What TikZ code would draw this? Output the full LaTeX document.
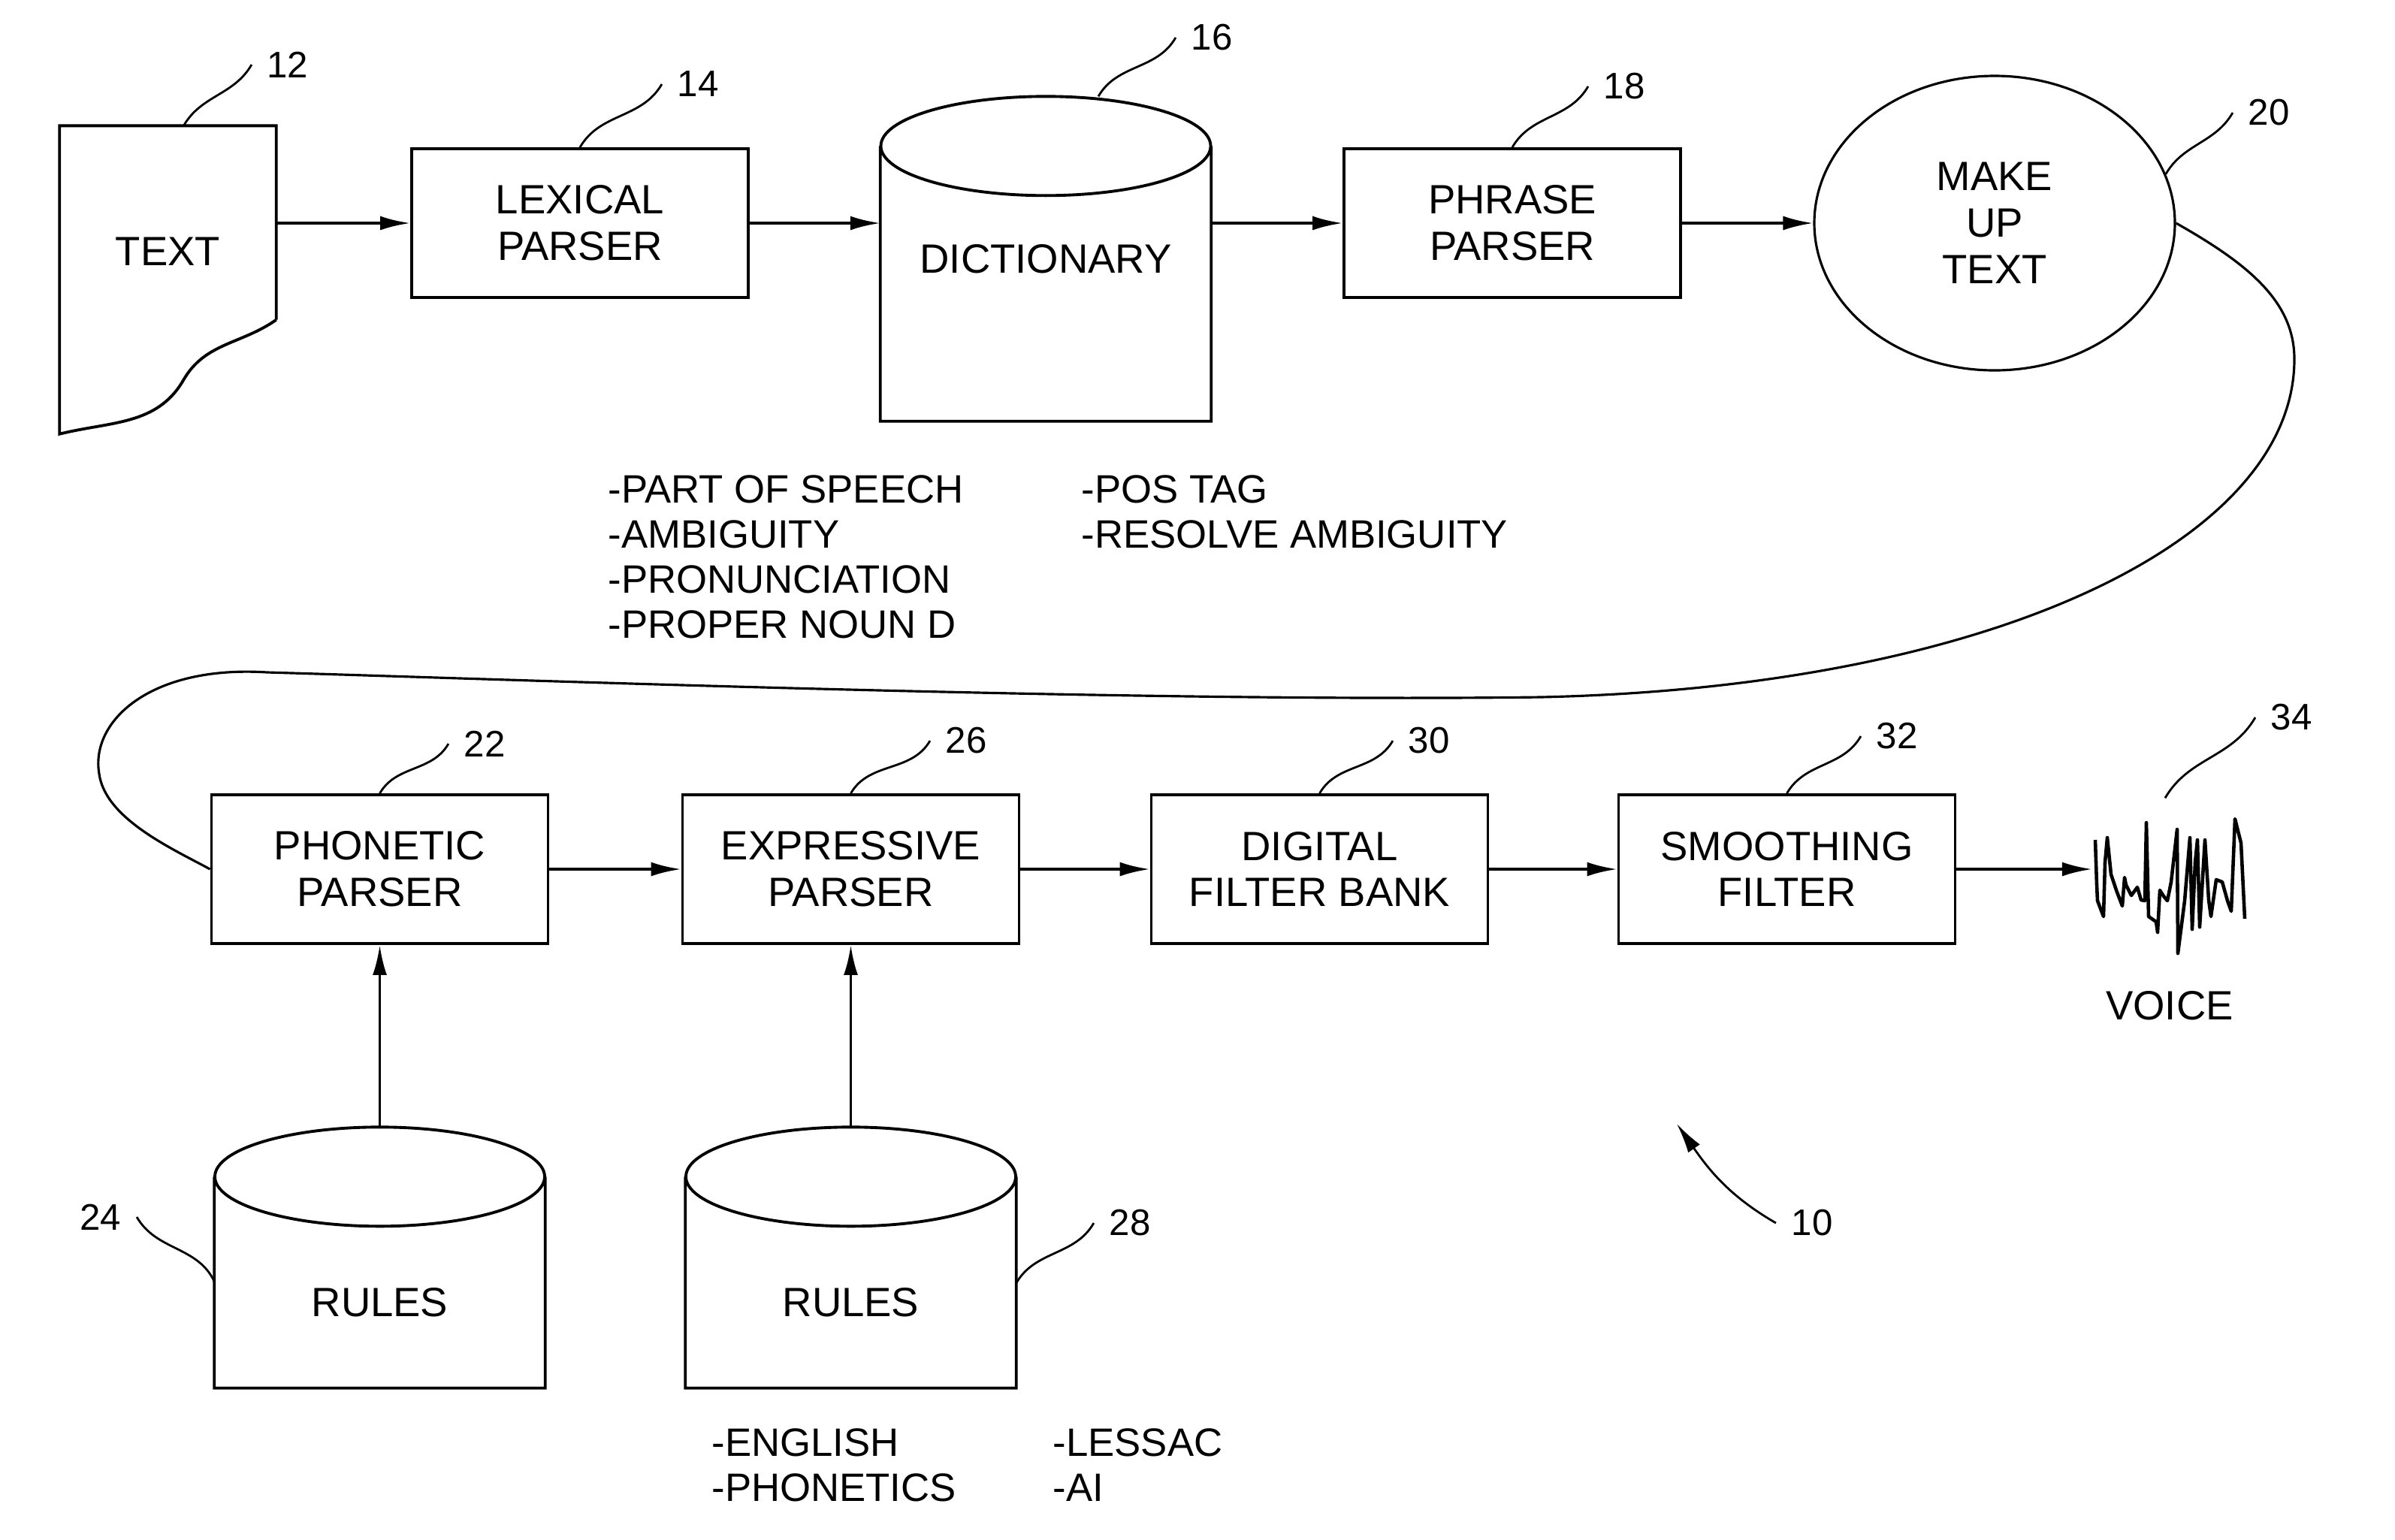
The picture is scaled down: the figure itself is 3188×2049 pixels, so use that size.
\documentclass[tikz,border=0pt]{standalone}
\usepackage{fontspec}
\setmainfont{Liberation Sans}
\usetikzlibrary{shapes.geometric,arrows.meta,positioning}

\begin{document}
\begin{tikzpicture}[x=0.1mm, y=-0.1mm, node distance=62mm, >={Latex[length=4mm,width=1.9mm]},
  every node/.style={font=\fontsize{15.5}{17.6}\selectfont},
  block/.style={rectangle, draw, line width=1.1pt, minimum width=44.8mm, minimum height=19.8mm, align=center, inner sep=0pt},
  drum/.style={rectangle, minimum width=43.9mm, inner sep=0pt},
  notes/.style={align=left, anchor=north west, inner sep=0pt, font=\fontsize{15}{17.1}\selectfont},
  refnum/.style={inner sep=2mm, font=\fontsize{14}{14}\selectfont},
  leader/.style={line width=0.8pt, out=60, in=-120},
  flow/.style={->, line width=1.1pt}]
  \useasboundingbox (0,0) rectangle (3188,2049);

  % top row
  \node[drum, minimum width=28.7mm, minimum height=40.9mm, label={[yshift=3.8mm]center:TEXT}] (textdoc) at (223.5,372.5) {};
  \node[block] (lexical) at (772,297) {LEXICAL\\PARSER};
  \node[drum, right of=lexical, yshift=-4.75mm, minimum height=43.1mm] (dict) {DICTIONARY};
  \node[block, right of=dict, node distance=62.1mm, yshift=4.75mm] (phrase) {PHRASE\\PARSER};
  \node[ellipse, draw, line width=0.9pt, minimum width=48mm, minimum height=39.2mm, inner sep=0pt, align=center, right of=phrase, node distance=64.2mm] (makeup) {MAKE\\UP\\TEXT};

  % bottom row
  \node[block] (phonetic) at (505.5,1157) {PHONETIC\\PARSER};
  \node[block, right of=phonetic, node distance=62.7mm] (expressive) {EXPRESSIVE\\PARSER};
  \node[block, right of=expressive, node distance=62.4mm] (digital) {DIGITAL\\FILTER BANK};
  \node[block, right of=digital, node distance=62.2mm] (smoothing) {SMOOTHING\\FILTER};
  \node[minimum width=20.5mm, minimum height=21mm, inner sep=0pt, right of=smoothing, node distance=50.95mm, yshift=-1.1mm] (wave) {};
  \node[below of=wave, node distance=17.1mm] (voice) {VOICE};

  \node[drum, minimum height=34.6mm, below of=phonetic, node distance=51.7mm, label={[yshift=-6mm]center:RULES}] (rulesA) {};
  \node[drum, minimum height=34.6mm, below of=expressive, node distance=51.7mm, label={[yshift=-6mm]center:RULES}] (rulesB) {};

  % outlines
  \draw[line width=1.1pt] ([yshift=15.2mm]textdoc.south east) -- (textdoc.north east) -- (textdoc.north west) -- (textdoc.south west)
    to[out=14,in=-120] ++(165,-72) to[out=60,in=-145] ([yshift=15.2mm]textdoc.south east);
  \foreach \drm in {dict,rulesA,rulesB}
    \draw[line width=1.1pt] ([yshift=-6.6mm]\drm.north west) -- (\drm.south west) -- (\drm.south east) -- ([yshift=-6.6mm]\drm.north east)
      ([yshift=-6.6mm]\drm.north) ellipse [x radius=21.95mm, y radius=6.6mm];
  \draw[line width=1.3pt, line join=round, shift={(wave.center)}] plot coordinates {(-99,-50) (-97,10) (-96,31) (-88,52) (-86,-20) (-83,-53) (-78,-4) (-71,17) (-63,38) (-60,0) (-58,10) (-51,24) (-43,13) (-38,30) (-33,31) (-31,-73) (-28,52) (-18,59) (-16,73) (-13,17) (-8,25) (-3,31) (2,6) (10,-64) (11,101) (20,31) (27,-53) (30,69) (34,-20) (37,-50) (40,66) (47,-50) (52,30) (55,52) (62,3) (70,6) (77,31) (82,45) (87,-78) (95,-46) (100,55)};

  % notes
  \node[notes] (dictnotes) at (809,632) {-PART OF SPEECH\\-AMBIGUITY\\-PRONUNCIATION\\-PROPER NOUN D};
  \node[notes] (posnotes) at (1439,632) {-POS TAG\\-RESOLVE AMBIGUITY};
  \node[notes] (langnotes) at (947,1901) {-ENGLISH\\-PHONETICS};
  \node[notes] (lessacnotes) at (1401,1901) {-LESSAC\\-AI};

  % reference numerals
  \node[refnum] (n12) at (383,86) {12};
  \node[refnum] (n14) at (929,112) {14};
  \node[refnum] (n16) at (1613,50) {16};
  \node[refnum] (n18) at (2162,115) {18};
  \node[refnum] (n20) at (3020,150) {20};
  \node[refnum] (n22) at (645,990) {22};
  \node[refnum] (n26) at (1286,986) {26};
  \node[refnum] (n30) at (1902,986) {30};
  \node[refnum] (n32) at (2525,980) {32};
  \node[refnum] (n34) at (3050,955) {34};
  \node[refnum] (n24) at (134,1620) {24};
  \node[refnum] (n28) at (1504,1628) {28};
  \node[refnum] (n10) at (2412,1628) {10};
  \coordinate (sysref) at (2232,1496);

  \draw[leader] ([xshift=2.1mm]textdoc.north) to (n12.west);
  \draw[leader] (lexical.north) to (n14.west);
  \draw[leader] ([xshift=7mm]dict.north) to (n16.west);
  \draw[leader] (phrase.north) to (n18.west);
  \draw[leader] (makeup.16) to (n20.west);
  \draw[leader] (phonetic.north) to (n22.west);
  \draw[leader] (expressive.north) to (n26.west);
  \draw[leader] (digital.north) to (n30.west);
  \draw[leader] (smoothing.north) to (n32.west);
  \draw[leader] ([xshift=-0.6mm]wave.north) to (n34.west);
  \draw[leader, out=-60, in=115] (n24.east) to ([yshift=-3.2mm]rulesA.west);
  \draw[leader] ([yshift=-3.4mm]rulesB.east) to (n28.west);
  \draw[->, line width=0.8pt] (n10.west) to[out=150, in=-55] (sysref);

  % connectors
  \draw[flow] (textdoc.east |- lexical) -- (lexical);
  \draw[flow] (lexical) -- (lexical -| dict.west);
  \draw[flow] (dict.east |- phrase) -- (phrase);
  \draw[flow] (phrase) -- (makeup);
  \draw[line width=0.9pt] (makeup.east) .. controls (2990,350) and (3054,400) .. (3054,478)
    .. controls (3054,720) and (2650,915) .. (2050,928)
    .. controls (1500,935) and (700,905) .. (356,895)
    .. controls (200,885) and (120,960) .. (132,1030)
    .. controls (140,1090) and (230,1130) .. (phonetic.west);
  \draw[flow] (phonetic) -- (expressive);
  \draw[flow] (expressive) -- (digital);
  \draw[flow] (digital) -- (smoothing);
  \draw[flow] (smoothing) -- (smoothing -| wave.west);
  \draw[flow] (rulesA.north) -- (rulesA.north |- phonetic.south);
  \draw[flow] (rulesB.north) -- (rulesB.north |- expressive.south);
\end{tikzpicture}
\end{document}
